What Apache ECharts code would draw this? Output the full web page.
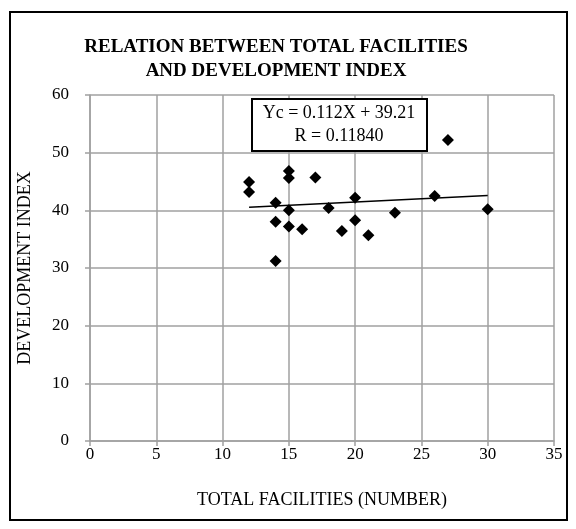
<!DOCTYPE html>
<html>
<head>
<meta charset="utf-8">
<script src="https://cdn.jsdelivr.net/npm/echarts@6/dist/echarts.min.js"></script>
<style>
  html, body { margin: 0; padding: 0; background: #fff; }
  #chart { width: 576px; height: 529px; }
</style>
</head>
<body>
<div id="chart"></div>
<script>
// total facilities (number) per area
var facilities = [27, 15, 15, 17, 12, 12, 14, 15, 18, 20, 26, 30, 23, 14, 20, 15, 16, 19, 21, 14];
// development index per area
var devIndex = [52.2, 46.8, 45.6, 45.7, 44.9, 43.2, 41.3, 40.0, 40.4, 42.2, 42.5, 40.2, 39.6, 38.0, 38.3, 37.2, 36.7, 36.4, 35.7, 31.2];
// linear trend line end points
var trendX = [12, 30];
var trendY = [40.55, 42.57];
var xTicks = [0, 35, 5];
var yTicks = [0, 60, 10];
var eqLines = ['Yc = 0.112X + 39.21', 'R = 0.11840'];

var font = '"Liberation Serif", "Times New Roman", serif';
var gridColor = '#a0a0a0';

var points = [];
for (var i = 0; i < facilities.length; i++) {
	points.push([facilities[i], devIndex[i]]);
}
var trend = [];
for (var j = 0; j < trendX.length; j++) {
	trend.push([trendX[j], trendY[j]]);
}

var myChart = echarts.init(document.getElementById('chart'));
myChart.setOption({
	animation: false,
	title: {
		text: 'RELATION BETWEEN TOTAL FACILITIES\nAND DEVELOPMENT INDEX',
		left: 271,
		textAlign: 'center',
		top: 30,
		textStyle: {
			fontFamily: font,
			fontWeight: 'bold',
			fontSize: 19,
			lineHeight: 24,
			color: '#000'
		}
	},
	grid: {
		left: 90,
		top: 95,
		width: 464,
		height: 346
	},
	xAxis: {
		type: 'value',
		min: xTicks[0],
		max: xTicks[1],
		interval: xTicks[2],
		name: 'TOTAL FACILITIES (NUMBER)',
		nameLocation: 'middle',
		nameGap: 50,
		nameTextStyle: { fontFamily: font, fontSize: 18, color: '#000' },
		axisLine: { lineStyle: { color: gridColor, width: 1.5 } },
		axisTick: { show: true, length: 5, lineStyle: { color: gridColor, width: 1.5 } },
		axisLabel: { fontFamily: font, fontSize: 17, color: '#000', margin: 5 },
		splitLine: { show: true, lineStyle: { color: gridColor, width: 1.5 } }
	},
	yAxis: {
		type: 'value',
		min: yTicks[0],
		max: yTicks[1],
		interval: yTicks[2],
		name: 'DEVELOPMENT INDEX',
		nameLocation: 'middle',
		nameGap: 56,
		nameRotate: 90,
		nameTextStyle: { fontFamily: font, fontSize: 18, color: '#000' },
		axisLine: { show: true, lineStyle: { color: gridColor, width: 1.5 } },
		axisTick: { show: true, length: 5, lineStyle: { color: gridColor, width: 1.5 } },
		axisLabel: { fontFamily: font, fontSize: 17, color: '#000', margin: 21 },
		splitLine: { show: true, lineStyle: { color: gridColor, width: 1.5 } }
	},
	series: [{
		type: 'scatter',
		data: points,
		symbol: 'diamond',
		symbolSize: 12,
		itemStyle: { color: '#000', opacity: 1 }
	}, {
		type: 'line',
		data: trend,
		symbol: 'none',
		lineStyle: { color: '#000', width: 1.5 }
	}],
	graphic: [{
		type: 'rect',
		shape: { x: 10, y: 12, width: 557, height: 508 },
		style: { fill: null, stroke: '#000', lineWidth: 2 },
		silent: true
	}, {
		type: 'rect',
		shape: { x: 252, y: 99, width: 175, height: 52 },
		style: { fill: '#fff', stroke: '#000', lineWidth: 2 },
		z: 100
	}, {
		type: 'text',
		x: 339,
		y: 125,
		z: 101,
		style: {
			text: eqLines.join('\n'),
			fontFamily: font,
			fontSize: 18,
			lineHeight: 23,
			fill: '#000',
			align: 'center',
			verticalAlign: 'middle'
		}
	}]
});
</script>
</body>
</html>
